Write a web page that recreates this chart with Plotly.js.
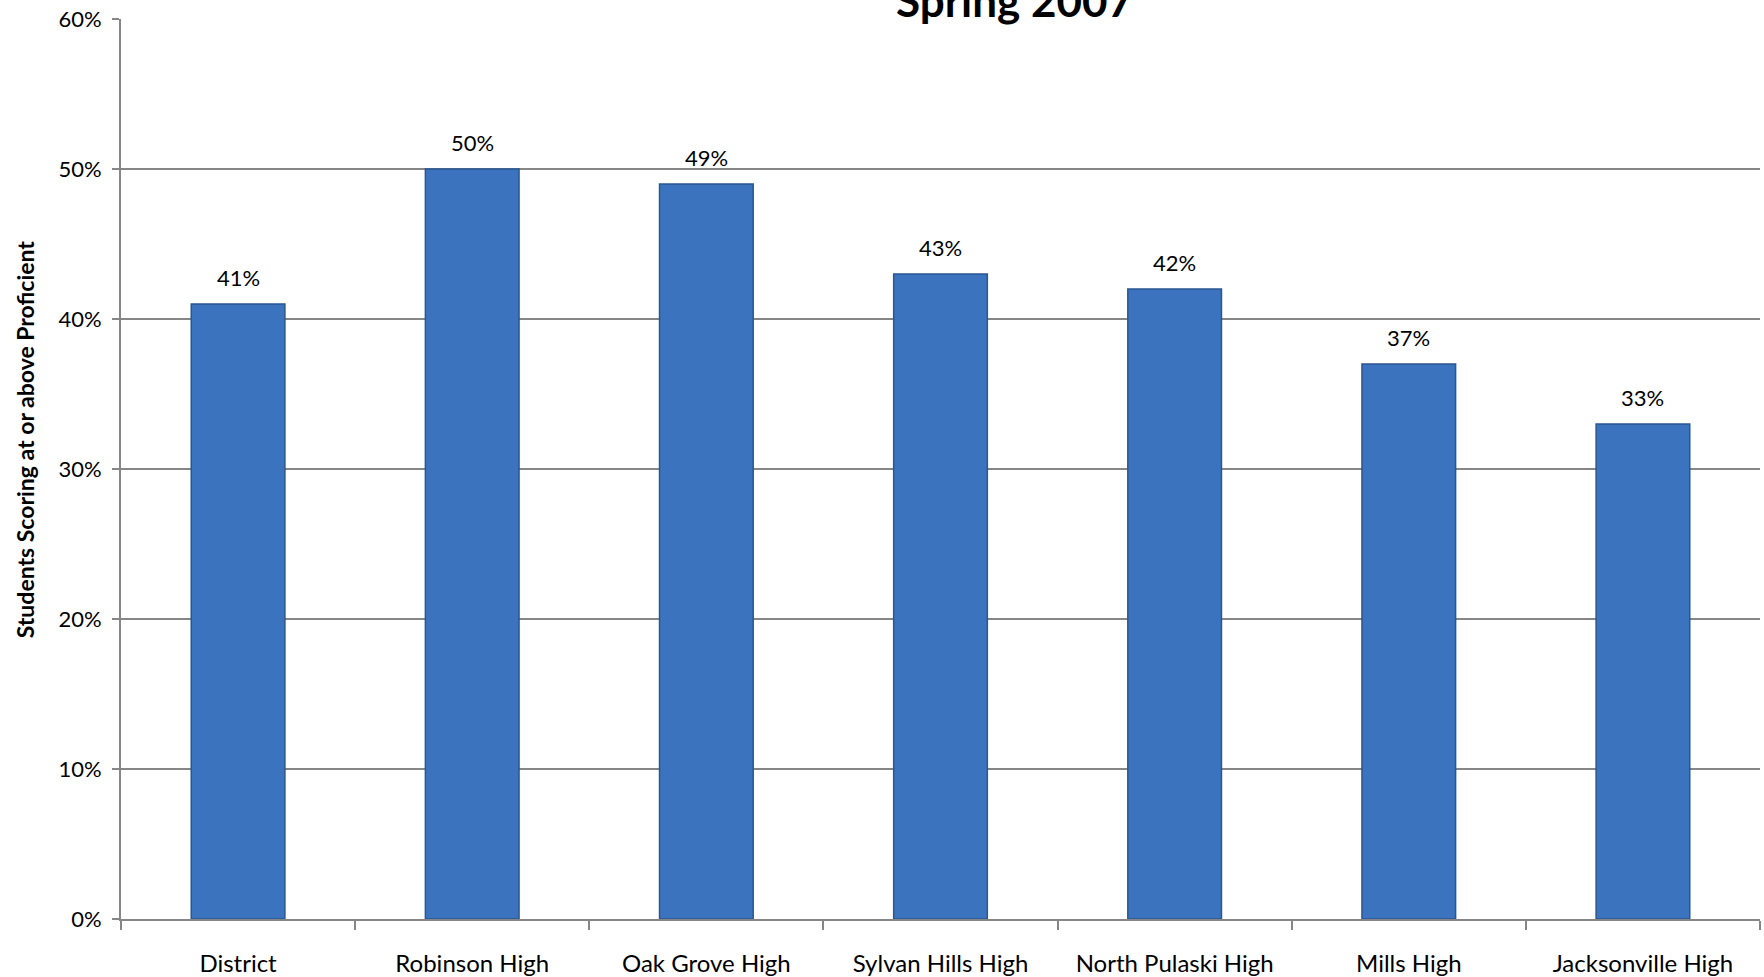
<!DOCTYPE html>
<html><head><meta charset="utf-8">
<script src="https://cdn.plot.ly/plotly-3.0.1.min.js"></script>
<style>html,body{margin:0;padding:0;background:#fff}#chart{width:1764px;height:977px}</style>
</head><body><div id="chart"></div>
<script>
const categories = ["District","Robinson High","Oak Grove High","Sylvan Hills High","North Pulaski High","Mills High","Jacksonville High"];
const values = [0.41,0.50,0.49,0.43,0.42,0.37,0.33];
const labels = ["41%","50%","49%","43%","42%","37%","33%"];
const titleText = "Spring 2007";
const yTitle = "Students Scoring at or above Proficient";
const font = "Lato, Carlito, Calibri, sans-serif";

const valueAnnotations = categories.map((c, i) => ({
  x: c, y: values[i], xref: 'x', yref: 'y', text: labels[i], showarrow: false,
  yanchor: 'middle', yshift: 27, font: {family: font, size: 22, color: '#000'}
}));

Plotly.newPlot('chart', [{
  type: 'bar', x: categories, y: values,
  marker: {color: '#3b73be', line: {color: '#2a5791', width: 1.5}}
}], {
  width: 1764, height: 977,
  margin: {l: 121, r: 4, t: 19, b: 58},
  paper_bgcolor: '#fff', plot_bgcolor: '#fff',
  bargap: 0.6, showlegend: false,
  xaxis: {showline: true, linecolor: '#868686', linewidth: 2, ticks: 'outside', tickson: 'boundaries', ticklen: 9, tickcolor: '#868686', tickwidth: 2, ticklabelstandoff: 22, tickfont: {family: font, size: 24, color: '#000'}, showgrid: false},
  yaxis: {range: [0, 0.6], dtick: 0.1, tickformat: '.0%', showline: true, linecolor: '#868686', linewidth: 2, ticks: 'outside', ticklen: 7, tickcolor: '#868686', tickwidth: 2, ticklabelstandoff: 6, gridcolor: '#868686', gridwidth: 2, zeroline: false, tickfont: {family: font, size: 22, color: '#000'}},
  annotations: valueAnnotations.concat([{
    text: '<b>' + yTitle + '</b>', xref: 'paper', yref: 'paper', x: 0, y: 0.533, xshift: -96,
    textangle: -90, showarrow: false, xanchor: 'center', yanchor: 'middle',
    font: {family: font, size: 23, color: '#000'}
  }, {
    text: '<b>' + titleText + '</b>', xref: 'paper', yref: 'paper', x: 0.545, y: 1, yshift: 19,
    showarrow: false, xanchor: 'center', yanchor: 'middle',
    font: {family: font, size: 44, color: '#000'}
  }])
}, {displayModeBar: false});
</script></body></html>
